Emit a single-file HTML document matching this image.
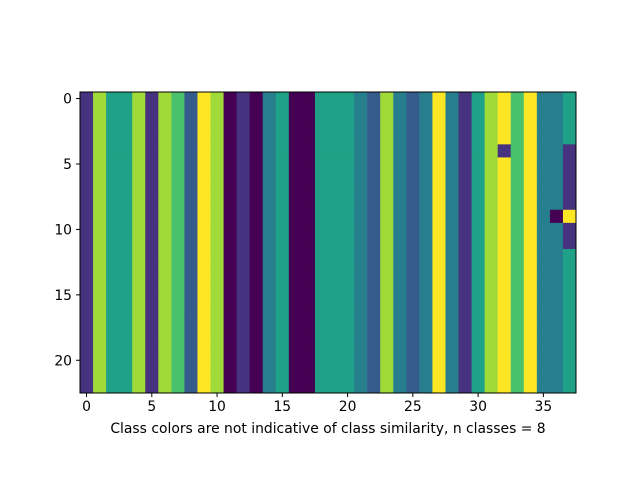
<!DOCTYPE html>
<html><head><meta charset="utf-8"><style>
body{margin:0;background:#fff;}
svg text{font-family:"DejaVu Sans","Liberation Sans",sans-serif;font-size:13.9px;fill:#000;}
</style></head><body>
<svg id="chart" width="640" height="480" xmlns="http://www.w3.org/2000/svg">
<rect width="640" height="480" fill="#fff"/>
<g id="cells"></g>
<g id="axes"></g>
</svg>
<script>
const nRows = 23;
const colClasses = [1,6,4,4,6,1,6,5,2,7,6,0,1,0,3,4,0,0,4,4,4,3,2,6,3,2,3,7,3,1,4,6,7,5,7,3,3,4];
const overrides = [[4,32,1],[4,37,1],[5,37,1],[6,37,1],[7,37,1],[8,37,1],[9,37,7],[10,37,1],[11,37,1],[9,36,0]];
const palette = ["#440154","#46327e","#365c8d","#277f8e","#1fa187","#4ac16d","#a0da39","#fde725"];
const xTicks = [0,5,10,15,20,25,30,35];
const yTicks = [0,5,10,15,20];
const xLabel = "Class colors are not indicative of class similarity, n classes = 8";

const X0=80,X1=576,Y0=92,Y1=393;
const nCols = colClasses.length;
const cw=(X1-X0)/nCols, ch=(Y1-Y0)/nRows;
const xs = c => X0 + c*cw;
const ys = r => Y0 + r*ch;
const NS="http://www.w3.org/2000/svg";
const grid = [];
for(let r=0;r<nRows;r++){grid.push(colClasses.slice());}
overrides.forEach(o=>{grid[o[0]][o[1]]=o[2];});
const cells=document.getElementById('cells');
for(let r=0;r<nRows;r++)for(let c=0;c<nCols;c++){
  const e=document.createElementNS(NS,'rect');
  e.setAttribute('x',xs(c));e.setAttribute('y',ys(r));
  e.setAttribute('width',cw+0.5);e.setAttribute('height',ch+0.5);
  e.setAttribute('fill',palette[grid[r][c]]);
  
  
  cells.appendChild(e);
}
const axes=document.getElementById('axes');
function add(tag,attrs,txt){const e=document.createElementNS(NS,tag);for(const k in attrs)e.setAttribute(k,attrs[k]);if(txt!==undefined)e.textContent=txt;axes.appendChild(e);return e;}
const fr=add('rect',{x:X0,y:Y0,width:X1-X0,height:Y1-Y0,fill:'none',stroke:'#000','stroke-width':1});


xTicks.forEach(t=>{
  const x=xs(t+0.5);
  const l=add('line',{x1:x,x2:x,y1:Y1,y2:Y1+4,stroke:'#000'});
  
  
  const tx=add('text',{x:x,y:Y1+18,'text-anchor':'middle'},t);
  
  
});
yTicks.forEach(t=>{
  const y=ys(t+0.5);
  const l=add('line',{x1:X0-4,x2:X0,y1:y,y2:y,stroke:'#000'});
  
  
  const tx=add('text',{x:X0-8,y:y+5,'text-anchor':'end'},t);
  
  
});
const xl=add('text',{x:(X0+X1)/2,y:433,'text-anchor':'middle'},xLabel);


</script>
</body></html>
